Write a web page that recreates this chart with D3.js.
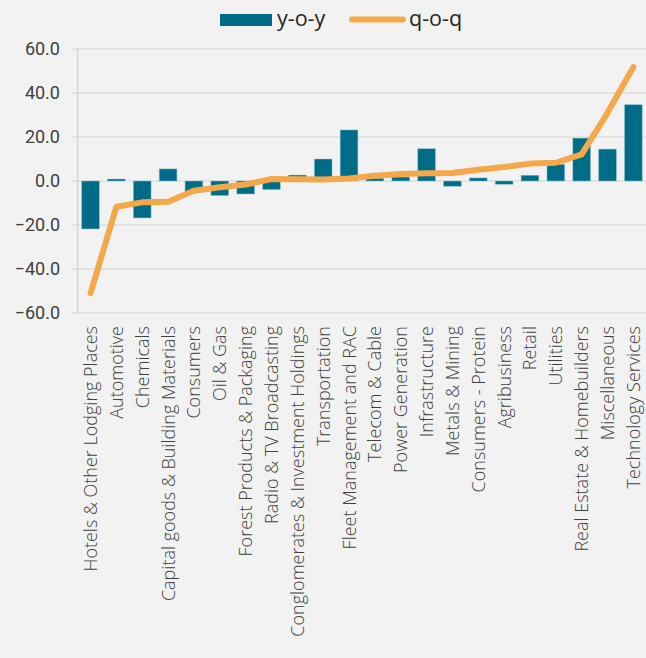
<!DOCTYPE html>
<html>
<head>
<meta charset="utf-8">
<script src="https://cdn.jsdelivr.net/npm/d3@7"></script>
<style>
  html, body { margin: 0; padding: 0; background: #F2F2F2; }
  svg { display: block; }
</style>
</head>
<body>
<svg id="chart" width="646" height="658"></svg>
<script>
const categories = [
  "Hotels & Other Lodging Places", "Automotive", "Chemicals",
  "Capital goods & Building Materials", "Consumers", "Oil & Gas",
  "Forest Products & Packaging", "Radio & TV Broadcasting",
  "Conglomerates & Investment Holdings", "Transportation",
  "Fleet Management and RAC", "Telecom & Cable", "Power Generation",
  "Infrastructure", "Metals & Mining", "Consumers - Protein",
  "Agribusiness", "Retail", "Utilities", "Real Estate & Homebuilders",
  "Miscellaneous", "Technology Services"
];
const yoy = [-21.8, 0.9, -16.8, 5.5, -4.8, -6.6, -5.9, -3.9, 2.7, 10.0,
             23.2, 1.2, 1.8, 14.7, -2.4, 1.4, -1.5, 2.6, 7.6, 19.5, 14.5, 34.7];
const qoq = [-51.0, -11.7, -9.7, -9.4, -4.4, -2.8, -1.6, 0.9, 0.8, 0.7,
             1.1, 2.4, 3.2, 3.5, 3.6, 5.1, 6.4, 7.9, 8.3, 12.1, 31.0, 51.8];
const yTicks = [-60, -40, -20, 0, 20, 40, 60];
const seriesNames = ["y-o-y", "q-o-q"];

const barColor = "#006C88";
const lineColor = "#F4A84A";
const textColor = "#404040";
const tickFont = "Roboto, 'Noto Sans', sans-serif";
const labelFont = "'Open Sans', 'Noto Sans', sans-serif";

const svg = d3.select("#chart");
const x = d3.scaleBand().domain(categories).range([77.6, 646.3])
  .paddingInner(0.315).paddingOuter(0.1575);
const y = d3.scaleLinear().domain([-60, 60]).range([313, 49]);

// gridlines
svg.append("g").selectAll("line").data(yTicks).join("line")
  .attr("x1", 72).attr("x2", 646)
  .attr("y1", d => y(d)).attr("y2", d => y(d))
  .attr("stroke", "#D4D4D4").attr("stroke-width", 1.2);

// vertical axis line
svg.append("line").attr("x1", 77.6).attr("x2", 77.6)
  .attr("y1", y(60)).attr("y2", y(-60))
  .attr("stroke", "#D0D0D0").attr("stroke-width", 1.2);

// y tick labels
svg.append("g").selectAll("text").data(yTicks).join("text")
  .attr("x", 60).attr("y", d => y(d)).attr("dy", "0.35em")
  .attr("text-anchor", "end")
  .attr("font-family", tickFont).attr("font-size", 18)
  .attr("fill", textColor)
  .text(d => d3.format(".1f")(d));

// bars
svg.append("g").selectAll("rect").data(categories).join("rect")
  .attr("x", d => x(d))
  .attr("width", x.bandwidth())
  .attr("y", (d, i) => y(Math.max(0, yoy[i])))
  .attr("height", (d, i) => Math.abs(y(yoy[i]) - y(0)))
  .attr("fill", barColor)
  .attr("stroke", "#8FC3D2").attr("stroke-opacity", 0.6).attr("stroke-width", 0.8);

// line
const line = d3.line()
  .x((d, i) => x(categories[i]) + x.bandwidth() / 2)
  .y(d => y(d));
svg.append("path").datum(qoq)
  .attr("d", line)
  .attr("fill", "none")
  .attr("stroke", lineColor).attr("stroke-width", 6)
  .attr("stroke-linejoin", "round").attr("stroke-linecap", "round");

// category labels
svg.append("g").selectAll("text").data(categories).join("text")
  .attr("transform", d => `translate(${x(d) + x.bandwidth() / 2},326) rotate(-90)`)
  .attr("dy", "0.36em")
  .attr("text-anchor", "end")
  .attr("font-family", labelFont).attr("font-size", 18)
  .attr("font-weight", 300)
  .attr("fill", textColor)
  .text(d => d);

// legend
const lg = svg.append("g");
lg.append("rect").attr("x", 220).attr("y", 14).attr("width", 52).attr("height", 12)
  .attr("fill", barColor);
lg.append("text").attr("x", 277).attr("y", 26)
  .attr("font-family", labelFont).attr("font-size", 21.5).attr("fill", "#262626")
  .text(seriesNames[0]);
lg.append("line").attr("x1", 352).attr("x2", 403).attr("y1", 19.5).attr("y2", 19.5)
  .attr("stroke", lineColor).attr("stroke-width", 6).attr("stroke-linecap", "round");
lg.append("text").attr("x", 409).attr("y", 26)
  .attr("font-family", labelFont).attr("font-size", 21.5).attr("fill", "#262626")
  .text(seriesNames[1]);
</script>
</body>
</html>
